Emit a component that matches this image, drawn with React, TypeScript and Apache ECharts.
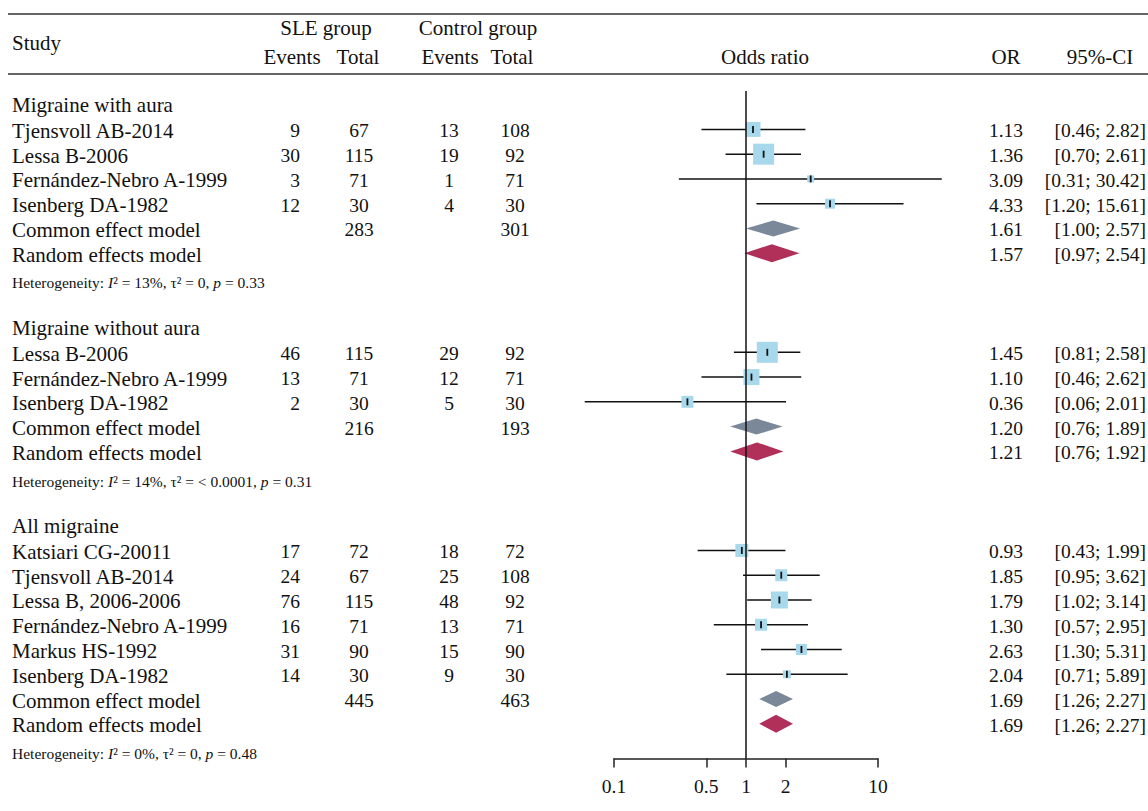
import React, { useEffect, useRef } from "react";
import * as echarts from "echarts";

const FONT = "'Liberation Serif', 'Times New Roman', serif";
const INK = "#111111";
const BOX = "#a8d8ec";
const COMMON = "#7b889a";
const RANDOM = "#b0305a";
const WORD = 21;
const NUM = 19.5;

// ---- Migraine with aura
const g1Title = "Migraine with aura";
const g1Studies = ["Tjensvoll AB-2014", "Lessa B-2006", "Fernández-Nebro A-1999", "Isenberg DA-1982"];
const g1SleEvents = [9, 30, 3, 12];
const g1SleTotal = [67, 115, 71, 30];
const g1CtrlEvents = [13, 19, 1, 4];
const g1CtrlTotal = [108, 92, 71, 30];
const g1OR = [1.13, 1.36, 3.09, 4.33];
const g1Lower = [0.46, 0.7, 0.31, 1.2];
const g1Upper = [2.82, 2.61, 30.42, 15.61];
const g1Box = [15, 21, 7, 10];
const g1Totals = [283, 301];
const g1Common = [1.61, 1.0, 2.57];
const g1Random = [1.57, 0.97, 2.54];
const g1Het = ["13%", "0", "0.33"];

// ---- Migraine without aura
const g2Title = "Migraine without aura";
const g2Studies = ["Lessa B-2006", "Fernández-Nebro A-1999", "Isenberg DA-1982"];
const g2SleEvents = [46, 13, 2];
const g2SleTotal = [115, 71, 30];
const g2CtrlEvents = [29, 12, 5];
const g2CtrlTotal = [92, 71, 30];
const g2OR = [1.45, 1.1, 0.36];
const g2Lower = [0.81, 0.46, 0.06];
const g2Upper = [2.58, 2.62, 2.01];
const g2Box = [21, 16, 12];
const g2Totals = [216, 193];
const g2Common = [1.2, 0.76, 1.89];
const g2Random = [1.21, 0.76, 1.92];
const g2Het = ["14%", "< 0.0001", "0.31"];

// ---- All migraine
const g3Title = "All migraine";
const g3Studies = [
  "Katsiari CG-20011",
  "Tjensvoll AB-2014",
  "Lessa B, 2006-2006",
  "Fernández-Nebro A-1999",
  "Markus HS-1992",
  "Isenberg DA-1982",
];
const g3SleEvents = [17, 24, 76, 16, 31, 14];
const g3SleTotal = [72, 67, 115, 71, 90, 30];
const g3CtrlEvents = [18, 25, 48, 13, 15, 9];
const g3CtrlTotal = [72, 108, 92, 71, 90, 30];
const g3OR = [0.93, 1.85, 1.79, 1.3, 2.63, 2.04];
const g3Lower = [0.43, 0.95, 1.02, 0.57, 1.3, 0.71];
const g3Upper = [1.99, 3.62, 3.14, 2.95, 5.31, 5.89];
const g3Box = [13, 12, 17, 12, 11, 8];
const g3Totals = [445, 463];
const g3Common = [1.69, 1.26, 2.27];
const g3Random = [1.69, 1.26, 2.27];
const g3Het = ["0%", "0", "0.48"];

const tickValues = [0.1, 0.5, 1, 2, 10];
const tickLabels = ["0.1", "0.5", "1", "2", "10"];

const groups = [
  { title: g1Title, studies: g1Studies, se: g1SleEvents, st: g1SleTotal, ce: g1CtrlEvents, ct: g1CtrlTotal, or: g1OR, lo: g1Lower, hi: g1Upper, box: g1Box, totals: g1Totals, common: g1Common, random: g1Random, het: g1Het },
  { title: g2Title, studies: g2Studies, se: g2SleEvents, st: g2SleTotal, ce: g2CtrlEvents, ct: g2CtrlTotal, or: g2OR, lo: g2Lower, hi: g2Upper, box: g2Box, totals: g2Totals, common: g2Common, random: g2Random, het: g2Het },
  { title: g3Title, studies: g3Studies, se: g3SleEvents, st: g3SleTotal, ce: g3CtrlEvents, ct: g3CtrlTotal, or: g3OR, lo: g3Lower, hi: g3Upper, box: g3Box, totals: g3Totals, common: g3Common, random: g3Random, het: g3Het },
];

const fmt = (v: number) => v.toFixed(2);
const ci = (lo: number, hi: number) => `[${fmt(lo)}; ${fmt(hi)}]`;

type Row = { kind: string; row: number; cells: any };
const rows: Row[] = [];
const studyPoints: number[][] = [];
const diamonds: number[][] = [];
{
  let r = -1;
  groups.forEach((g) => {
    rows.push({ kind: "heading", row: r, cells: { name: g.title } });
    r++;
    g.studies.forEach((s, i) => {
      rows.push({
        kind: "study",
        row: r,
        cells: { name: s, se: g.se[i], st: g.st[i], ce: g.ce[i], ct: g.ct[i], or: fmt(g.or[i]), ci: ci(g.lo[i], g.hi[i]) },
      });
      studyPoints.push([Math.log10(g.or[i]), Math.log10(g.lo[i]), Math.log10(g.hi[i]), r, g.box[i]]);
      r++;
    });
    rows.push({
      kind: "common",
      row: r,
      cells: { name: "Common effect model", st: g.totals[0], ct: g.totals[1], or: fmt(g.common[0]), ci: ci(g.common[1], g.common[2]) },
    });
    diamonds.push([Math.log10(g.common[0]), Math.log10(g.common[1]), Math.log10(g.common[2]), r, 0]);
    r++;
    rows.push({
      kind: "random",
      row: r,
      cells: { name: "Random effects model", or: fmt(g.random[0]), ci: ci(g.random[1], g.random[2]) },
    });
    diamonds.push([Math.log10(g.random[0]), Math.log10(g.random[1]), Math.log10(g.random[2]), r, 1]);
    r++;
    rows.push({ kind: "het", row: r, cells: { het: g.het } });
    r += 2;
  });
}

const COL = { name: 12, se: 300, st: 359, ce: 449, ct: 515, or: 1023, ci: 1146 };

function txt(x: number, y: number, text: string, align: string, size = WORD) {
  return {
    type: "text",
    x,
    y,
    style: { text, fill: INK, fontFamily: FONT, fontSize: size, align, verticalAlign: "middle" },
  };
}

export default function App() {
  const ref = useRef<HTMLDivElement>(null);
  useEffect(() => {
    if (!ref.current) return;
    const chart = echarts.init(ref.current, undefined, { renderer: "svg" });
    const tickPos = tickValues.map((v) => Math.log10(v));

    const option: any = {
      animation: false,
      backgroundColor: "#ffffff",
      grid: { left: 614, top: 91, width: 264, height: 667.5, containLabel: false },
      xAxis: {
        type: "value",
        min: -1,
        max: 1,
        position: "bottom",
        axisLine: { show: true, onZero: false, lineStyle: { color: "#222", width: 1.5 } },
        axisTick: { show: true, customValues: tickPos, length: 9, inside: false, lineStyle: { color: "#222", width: 1.5 } },
        axisLabel: {
          customValues: tickPos,
          margin: 18,
          fontSize: NUM,
          fontFamily: FONT,
          color: INK,
          hideOverlap: false,
          formatter: (v: number) => {
            const i = tickPos.findIndex((p) => Math.abs(p - v) < 1e-6);
            return i >= 0 ? tickLabels[i] : "";
          },
        },
        splitLine: { show: false },
      },
      yAxis: { type: "value", inverse: true, min: -1.55, max: 25.4, show: false },
      graphic: [
        { type: "line", shape: { x1: 8, y1: 14, x2: 1148, y2: 14 }, style: { stroke: "#333", lineWidth: 1.5 } },
        { type: "line", shape: { x1: 8, y1: 74, x2: 1148, y2: 74 }, style: { stroke: "#333", lineWidth: 1.5 } },
        txt(12, 43, "Study", "left"),
        txt(326, 28, "SLE group", "center"),
        txt(292, 57, "Events", "center"),
        txt(358, 57, "Total", "center"),
        txt(478, 28, "Control group", "center"),
        txt(450, 57, "Events", "center"),
        txt(512, 57, "Total", "center"),
        txt(765, 57, "Odds ratio", "center"),
        txt(1006, 57, "OR", "center"),
        txt(1100, 57, "95%-CI", "center"),
      ],
      series: [
        {
          type: "custom",
          name: "table",
          clip: false,
          silent: true,
          data: rows.map((r) => [0, r.row]),
          renderItem: (params: any, api: any) => {
            const row = rows[params.dataIndex];
            const y = api.coord([0, row.row])[1];
            const c = row.cells;
            const ch: any[] = [];
            if (row.kind === "het") {
              const h = c.het;
              ch.push({
                type: "text",
                x: COL.name,
                y: y + 5,
                style: {
                  text: `{n|Heterogeneity: }{i|I}{n|² = ${h[0]}, τ² = ${h[1]}, }{i|p}{n| = ${h[2]}}`,
                  verticalAlign: "middle",
                  align: "left",
                  rich: {
                    n: { fontFamily: FONT, fontSize: 15.5, fill: INK },
                    i: { fontFamily: FONT, fontSize: 15.5, fill: INK, fontStyle: "italic" },
                  },
                },
              });
              return { type: "group", children: ch };
            }
            const yy = row.kind === "heading" ? y + 0.5 : y + 1.5;
            ch.push(txt(COL.name, yy, c.name, "left"));
            if (c.se !== undefined) ch.push(txt(COL.se, yy, String(c.se), "right", NUM));
            if (c.st !== undefined) ch.push(txt(COL.st, yy, String(c.st), "center", NUM));
            if (c.ce !== undefined) ch.push(txt(COL.ce, yy, String(c.ce), "center", NUM));
            if (c.ct !== undefined) ch.push(txt(COL.ct, yy, String(c.ct), "center", NUM));
            if (c.or !== undefined) ch.push(txt(COL.or, yy, c.or, "right", NUM));
            if (c.ci !== undefined) ch.push(txt(COL.ci, yy, c.ci, "right", NUM));
            return { type: "group", children: ch };
          },
        },
        {
          type: "custom",
          name: "studies",
          clip: false,
          silent: true,
          data: studyPoints,
          renderItem: (params: any, api: any) => {
            const row = api.value(3);
            const c = api.coord([api.value(0), row]);
            const l = api.coord([api.value(1), row]);
            const h = api.coord([api.value(2), row]);
            const s = api.value(4);
            return {
              type: "group",
              children: [
                { type: "line", shape: { x1: l[0], y1: c[1], x2: h[0], y2: c[1] }, style: { stroke: INK, lineWidth: 1.5 } },
                { type: "rect", shape: { x: c[0] - s / 2, y: c[1] - s / 2, width: s, height: s }, style: { fill: BOX } },
                { type: "line", shape: { x1: c[0], y1: c[1] - 3.5, x2: c[0], y2: c[1] + 3.5 }, style: { stroke: INK, lineWidth: 1.8 } },
              ],
            };
          },
          markLine: {
            silent: true,
            symbol: ["none", "none"],
            label: { show: false },
            lineStyle: { color: INK, width: 1.5, type: "solid" },
            data: [{ xAxis: 0 }],
          },
        },
        {
          type: "custom",
          name: "pooled",
          clip: false,
          silent: true,
          data: diamonds,
          renderItem: (params: any, api: any) => {
            const row = api.value(3);
            const c = api.coord([api.value(0), row]);
            const l = api.coord([api.value(1), row]);
            const h = api.coord([api.value(2), row]);
            const isRandom = api.value(4) === 1;
            const hh = isRandom ? 9 : 8;
            return {
              type: "polygon",
              shape: { points: [[l[0], c[1]], [c[0], c[1] - hh], [h[0], c[1]], [c[0], c[1] + hh]] },
              style: { fill: isRandom ? RANDOM : COMMON },
            };
          },
        },
      ],
    };
    chart.setOption(option);
    return () => chart.dispose();
  }, []);
  return <div ref={ref} style={{ position: "absolute", left: 0, top: 0, width: 1148, height: 811 }} />;
}
